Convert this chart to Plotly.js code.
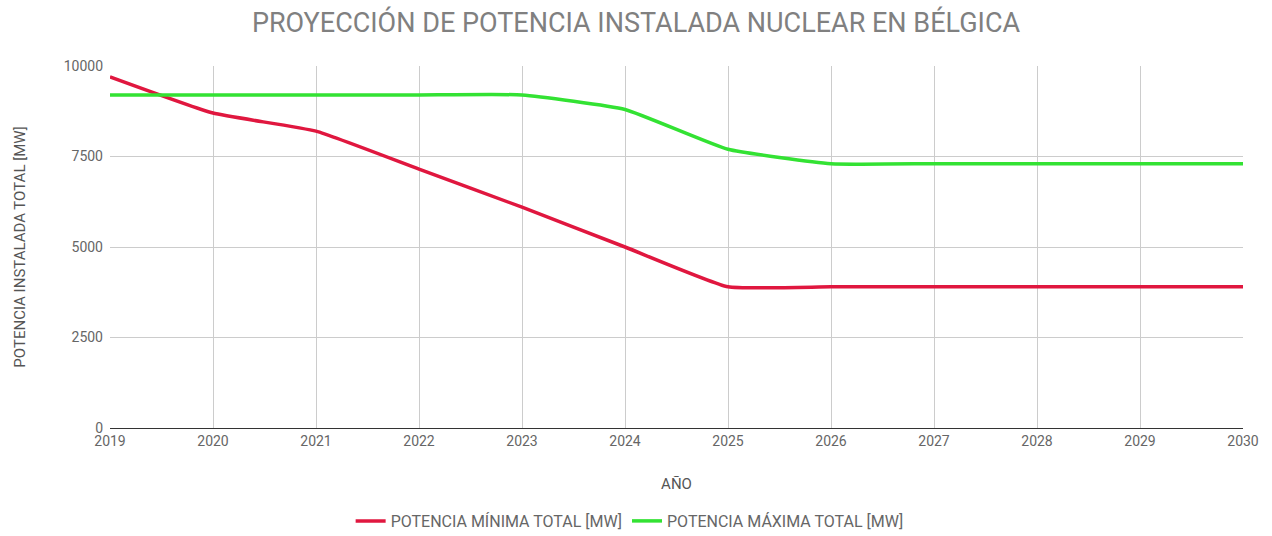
<!DOCTYPE html>
<html>
<head>
<meta charset="utf-8">
<script src="https://cdn.plot.ly/plotly-3.0.1.min.js"></script>
<style>html,body{margin:0;padding:0;background:#fff;}#chart{width:1272px;height:536px;}</style>
</head>
<body>
<div id="chart"></div>
<script>
const years = [2019, 2020, 2021, 2022, 2023, 2024, 2025, 2026, 2027, 2028, 2029, 2030];
const potenciaMinima = [9700, 8700, 8200, 7150, 6100, 5000, 3900, 3900, 3900, 3900, 3900, 3900];
const potenciaMaxima = [9200, 9200, 9200, 9200, 9200, 8800, 7700, 7300, 7300, 7300, 7300, 7300];
const yTicks = [0, 2500, 5000, 7500, 10000];
const yTickLabels = ['0', '2500', '5000', '7500', '10000'];
const seriesNames = ['POTENCIA MÍNIMA TOTAL [MW]', 'POTENCIA MÁXIMA TOTAL [MW]'];

const traces = [
  {x: years, y: potenciaMinima, name: seriesNames[0], type: 'scatter', mode: 'lines',
   line: {color: '#e0173f', width: 3.5, shape: 'spline', smoothing: 0.4}},
  {x: years, y: potenciaMaxima, name: seriesNames[1], type: 'scatter', mode: 'lines',
   line: {color: '#33e233', width: 3.5, shape: 'spline', smoothing: 0.4}}
];

const layout = {
  width: 1272, height: 536,
  paper_bgcolor: '#ffffff', plot_bgcolor: '#ffffff',
  font: {family: 'Roboto, sans-serif', color: '#666666', size: 14},
  margin: {l: 110, r: 29, t: 66, b: 108},
  title: {text: 'PROYECCIÓN DE POTENCIA INSTALADA NUCLEAR EN BÉLGICA',
          font: {size: 27, color: '#808080', family: 'Roboto, sans-serif'},
          x: 0.5, xanchor: 'center', y: 0.958, yanchor: 'middle'},
  xaxis: {
    range: [2019, 2030], tickmode: 'array', tickvals: years, ticktext: years.map(String),
    showgrid: true, gridcolor: '#cccccc', zeroline: false,
    showline: true, linecolor: '#333333', linewidth: 1,
    tickfont: {size: 14, color: '#666666'},
    title: {text: 'AÑO', font: {size: 15, color: '#555555'}, standoff: 30},
    automargin: false
  },
  yaxis: {
    range: [0, 10000], tickmode: 'array', tickvals: yTicks, ticktext: yTickLabels,
    showgrid: true, gridcolor: '#cccccc', zeroline: false,
    tickfont: {size: 14, color: '#666666'}, ticklabelstandoff: 6,
    title: {text: 'POTENCIA INSTALADA TOTAL [MW]', font: {size: 15, color: '#555555'}, standoff: 34},
    automargin: false
  },
  legend: {orientation: 'h', xref: 'container', yref: 'container',
           x: 0.495, xanchor: 'center', y: 0.028, yanchor: 'middle',
           font: {size: 16, color: '#666666'}, itemwidth: 30},
  showlegend: true
};

Plotly.newPlot('chart', traces, layout, {displayModeBar: false, staticPlot: true});
</script>
</body>
</html>
